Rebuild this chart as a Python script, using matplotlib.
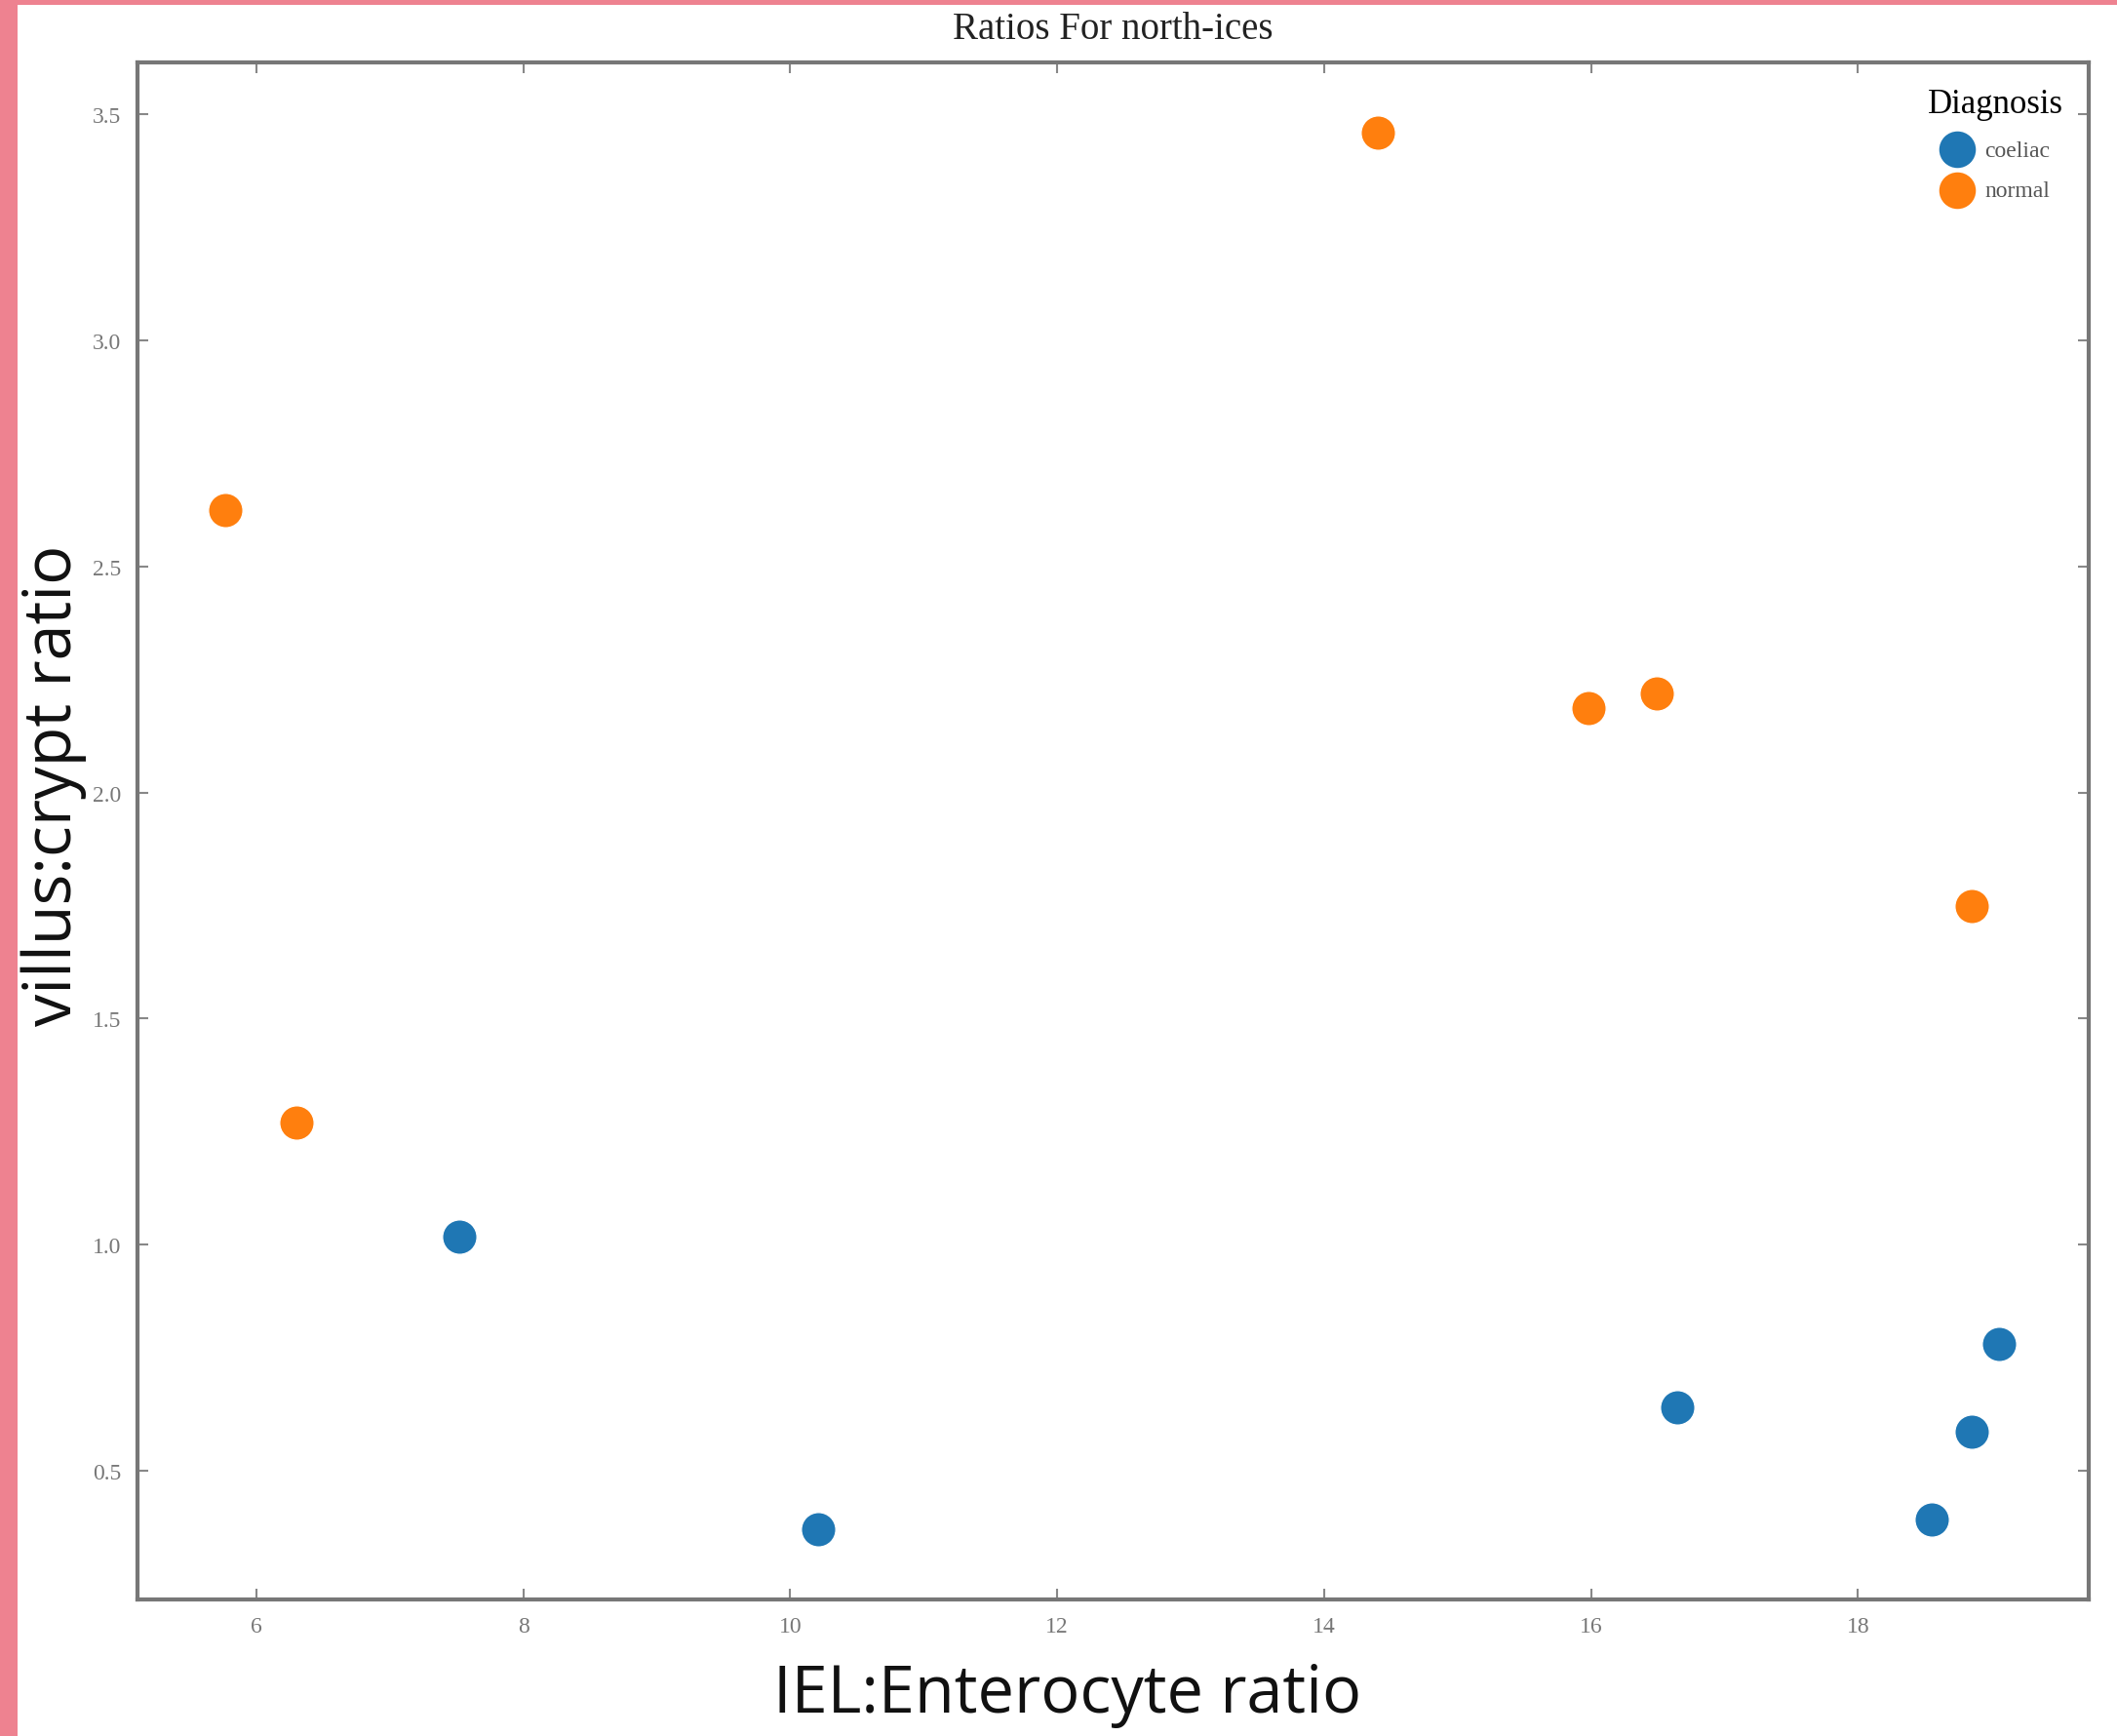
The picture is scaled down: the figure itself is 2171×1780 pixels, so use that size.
import matplotlib
matplotlib.use("Agg")
import matplotlib.pyplot as plt
from matplotlib.patches import Rectangle

# Data
coeliac_x = [7.52, 10.21, 16.65, 19.06, 18.85, 18.55]
coeliac_y = [1.017, 0.372, 0.64, 0.78, 0.587, 0.393]
normal_x = [5.77, 6.30, 14.40, 15.98, 16.49, 18.85]
normal_y = [2.625, 1.27, 3.458, 2.186, 2.22, 1.75]
xticks = [6, 8, 10, 12, 14, 16, 18]
yticks = [0.5, 1.0, 1.5, 2.0, 2.5, 3.0, 3.5]
title = "Ratios For north-ices"
xlabel = "IEL:Enterocyte ratio"
ylabel = "villus:crypt ratio"
legend_title = "Diagnosis"
labels = ["coeliac", "normal"]

W, H = 2171, 1781
fig = plt.figure(figsize=(W / 100, H / 100), dpi=100)
fig.patch.set_facecolor("#ee8290")
bg = Rectangle((18 / W, 0), 1, 1 - 6 / H, transform=fig.transFigure,
               facecolor="white", edgecolor="none", zorder=-10)
fig.patches.append(bg)

ax = fig.add_axes([141 / W, 1 - 1641 / H, (2142 - 141) / W, (1641 - 65) / H])
ax.set_facecolor("white")

ax.scatter(coeliac_x, coeliac_y, s=650, color="#1f77b4", edgecolor="white",
           linewidth=1, label=labels[0], zorder=3)
ax.scatter(normal_x, normal_y, s=650, color="#ff7f0e", edgecolor="white",
           linewidth=1, label=labels[1], zorder=3)

ax.set_xlim(5.109, 19.73)
ax.set_ylim(0.216, 3.614)
ax.set_xticks(xticks)
ax.set_yticks(yticks)
ax.set_xticklabels([str(t) for t in xticks], family="Liberation Serif", fontsize=17, color="#777777")
ax.set_yticklabels([f"{t:.1f}" for t in yticks], family="Liberation Serif", fontsize=17, color="#777777")
ax.tick_params(direction="in", length=8, width=1.5, color="#888888", top=True, right=True, pad=12)

for sp in ax.spines.values():
    sp.set_color("#777777")
    sp.set_linewidth(3)

fig.text((141 + 2142) / 2 / W, 1 - 30 / H, title, ha="center", va="center",
         family="Liberation Serif", fontsize=28, color="#222222")
fig.text(1095 / W, 1 - 1738 / H, xlabel, ha="center", va="center",
         family="Open Sans", fontsize=48, color="#111111")
fig.text(55 / W, 1 - 805 / H, ylabel, ha="center", va="center", rotation=90,
         family="Open Sans", fontsize=48, color="#111111")

leg = ax.legend(title=legend_title, loc="upper right", frameon=False,
                prop={"family": "Liberation Serif", "size": 17},
                title_fontproperties={"family": "Liberation Serif", "size": 25},
                markerscale=1.1, handletextpad=0.5, borderaxespad=0.7,
                labelspacing=0.85, handlelength=1.4)
for t in leg.get_texts():
    t.set_color("#555555")

fig.savefig("out.png", dpi=100, facecolor=fig.get_facecolor())
